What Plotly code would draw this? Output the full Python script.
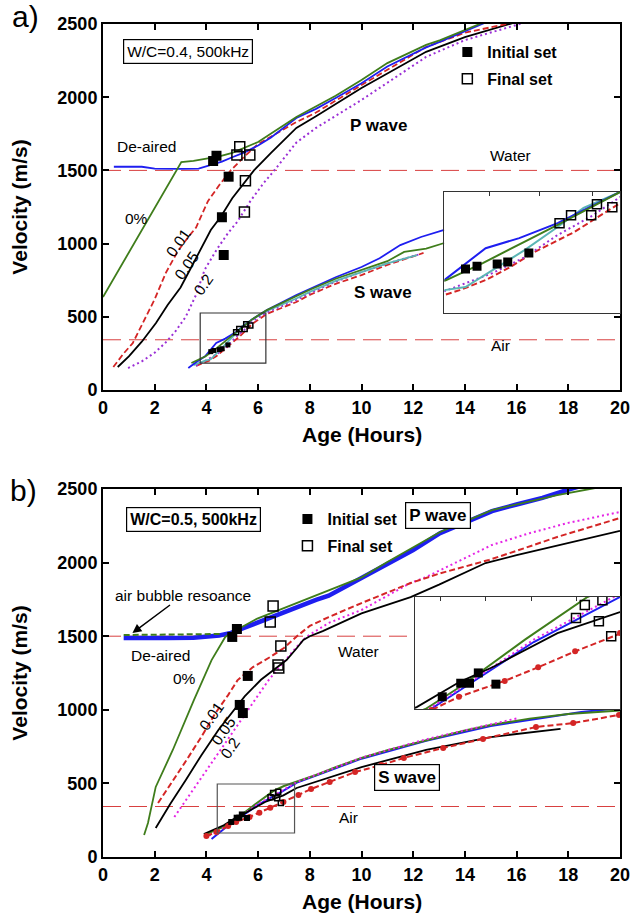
import plotly.graph_objects as go

FONT = "Liberation Sans"

# ---------------- reference velocities ----------------
WATER_V = 1500
AIR_V = 343
AGE_SPAN = [0, 20]

# ================= Panel a) W/C = 0.4 =================
# P wave
A_P_DEAIRED_T = [0.42, 1.5, 2.0, 2.5, 3.0, 3.7, 4.2, 4.6, 5.0, 5.5, 6.0, 6.5, 7.48, 8.24, 9.0, 10.0, 11.0, 12.5, 13.05, 14.6, 15.2]
A_P_DEAIRED_V = [1525, 1525, 1512, 1510, 1510, 1512, 1540, 1560, 1590, 1625, 1670, 1725, 1858, 1920, 1995, 2095, 2210, 2340, 2380, 2500, 2540]
A_P_0_T = [0, 3.03, 3.5, 4.0, 4.5, 5.0, 5.5, 6.0, 7.48, 8.24, 9.0, 10.0, 11.0, 12.5, 13.05, 14.57, 15.2]
A_P_0_V = [635, 1557, 1565, 1578, 1595, 1620, 1655, 1694, 1865, 1935, 2010, 2117, 2233, 2357, 2390, 2500, 2540]
A_P_001_T = [0.4, 0.8, 1.15, 1.67, 2.0, 2.43, 2.9, 3.3, 3.6, 4.06, 4.5, 4.94, 5.5, 6.0, 7.48, 8.24, 10.0, 12.5, 14.0, 15.6, 16.2]
A_P_001_V = [157, 250, 320, 500, 620, 800, 950, 1045, 1110, 1290, 1400, 1500, 1600, 1680, 1830, 1895, 2083, 2343, 2440, 2500, 2530]
A_P_005_T = [0.57, 1.0, 1.5, 2.05, 2.5, 3.0, 3.42, 4.17, 4.55, 5.0, 5.84, 6.5, 7.48, 8.24, 10.0, 12.5, 14.0, 15.8, 16.5]
A_P_005_V = [157, 230, 330, 458, 580, 700, 840, 1093, 1182, 1310, 1500, 1620, 1790, 1870, 2063, 2310, 2410, 2500, 2540]
A_P_02_T = [0.97, 1.5, 2.0, 2.4, 2.8, 3.2, 3.6, 3.93, 4.4, 4.85, 5.2, 5.7, 6.2, 6.65, 7.48, 8.24, 10.0, 12.5, 14.0, 16.2, 16.8]
A_P_02_V = [150, 195, 255, 320, 400, 500, 650, 820, 960, 1075, 1150, 1290, 1410, 1505, 1690, 1790, 1981, 2275, 2390, 2500, 2535]
A_P_INIT_T = [4.26, 4.39, 4.86, 4.6, 4.67]
A_P_INIT_V = [1564, 1600, 1457, 1180, 922]
A_P_FINAL_T = [5.29, 5.18, 5.68, 5.51, 5.47]
A_P_FINAL_V = [1661, 1605, 1605, 1430, 1215]

# S wave
A_S_DEAIRED_T = [3.3, 3.6, 3.95, 4.38, 4.73, 5.13, 5.78, 6.34, 7.48, 8.0, 9.0, 10.0, 10.7, 11.5, 12.3, 13.2]
A_S_DEAIRED_V = [150, 190, 230, 322, 351, 394, 484, 546, 649, 690, 770, 840, 900, 990, 1045, 1093]
A_S_0_T = [3.42, 3.7, 3.97, 4.35, 4.86, 5.13, 5.78, 6.34, 7.48, 8.0, 9.0, 10.0, 11.0, 11.65, 12.5, 13.2]
A_S_0_V = [184, 205, 230, 279, 351, 389, 484, 546, 640, 685, 760, 820, 880, 943, 965, 1004]
A_S_CYAN_T = [3.5, 3.95, 4.17, 4.45, 4.79, 5.13, 5.4, 5.78, 6.34, 7.48, 8.0, 9.0, 10.0, 11.0, 12.15]
A_S_CYAN_V = [170, 201, 210, 259, 317, 383, 438, 484, 540, 625, 670, 745, 805, 865, 922]
A_S_02_T = [3.6, 3.95, 4.45, 4.79, 5.13, 5.47, 5.78, 6.34, 7.48, 8.0, 9.0, 10.0, 11.0, 12.2]
A_S_02_V = [165, 198, 250, 296, 360, 412, 469, 530, 615, 660, 740, 805, 865, 925]
A_S_001_T = [3.6, 3.95, 4.11, 4.38, 4.62, 4.89, 5.3, 5.78, 6.34, 7.48, 8.0, 9.0, 10.0, 11.0, 12.4]
A_S_001_V = [165, 187, 201, 230, 265, 311, 368, 452, 520, 601, 650, 725, 785, 855, 936]
A_S_INIT_T = [4.17, 4.29, 4.5, 4.61, 4.83]
A_S_INIT_V = [262, 270, 276, 282, 308]
A_S_FINAL_T = [5.15, 5.27, 5.48, 5.54, 5.7]
A_S_FINAL_V = [394, 417, 417, 449, 440]

# ================= Panel b) W/C = 0.5 =================
B_P_BUBBLE_T = [0.8, 2.0, 3.0, 4.0, 4.6]
B_P_BUBBLE_V = [1508, 1510, 1510, 1512, 1515]
B_P_DEAIRED_T = [0.8, 1.5, 2.5, 3.5, 4.5, 4.95, 5.5, 6.47, 7.49, 8.24, 8.73, 10.0, 11.0, 12.0, 13.04, 14.0, 15.05, 16.0, 17.0, 18.07, 19.0]
B_P_DEAIRED_V = [1488, 1485, 1487, 1490, 1505, 1522, 1560, 1624, 1700, 1746, 1775, 1895, 1997, 2085, 2200, 2275, 2350, 2395, 2440, 2500, 2545]
B_P_0_T = [1.59, 1.74, 2.04, 2.7, 3.52, 4.2, 4.73, 4.95, 5.97, 7.1, 8.24, 10.0, 11.0, 13.04, 15.05, 17.57, 18.83, 19.5]
B_P_0_V = [150, 231, 476, 727, 1067, 1338, 1495, 1522, 1620, 1700, 1780, 1900, 2004, 2208, 2357, 2459, 2500, 2520]
B_P_001_T = [2.13, 2.6, 3.2, 3.8, 4.34, 4.84, 5.2, 5.8, 6.47, 7.0, 7.5, 8.0, 8.73, 10.0, 11.9, 13.0, 14.93, 16.0, 17.57, 19.0, 20.0]
B_P_001_V = [367, 490, 650, 815, 975, 1100, 1200, 1290, 1359, 1420, 1500, 1570, 1630, 1725, 1861, 1925, 2018, 2080, 2174, 2250, 2303]
B_P_005_T = [2.04, 2.6, 3.21, 3.8, 4.47, 5.0, 5.48, 6.11, 6.6, 7.1, 7.5, 7.75, 8.0, 8.5, 10.0, 11.9, 13.0, 14.8, 16.0, 18.0, 20.0]
B_P_005_V = [197, 360, 525, 690, 865, 985, 1091, 1204, 1270, 1338, 1420, 1474, 1500, 1535, 1655, 1766, 1850, 1997, 2050, 2130, 2215]
B_P_02_T = [2.76, 3.5, 4.2, 4.84, 5.4, 5.88, 6.4, 6.73, 7.1, 7.49, 7.86, 8.5, 8.73, 10.0, 11.0, 11.9, 12.5, 14.0, 15.05, 16.5, 18.0, 20.0]
B_P_02_V = [272, 460, 640, 800, 950, 1067, 1200, 1270, 1350, 1427, 1495, 1565, 1590, 1678, 1775, 1862, 1902, 2030, 2120, 2200, 2270, 2344]
B_P_INIT_T = [5.18, 5.0, 5.6, 5.29, 5.41]
B_P_INIT_V = [1549, 1495, 1230, 1033, 978]
B_P_FINAL_T = [6.58, 6.47, 6.88, 6.77, 6.8]
B_P_FINAL_V = [1705, 1597, 1434, 1304, 1284]

B_S_0_T = [3.95, 4.3, 4.77, 5.16, 5.9, 6.61, 7.0, 7.5, 8.24, 9.0, 10.0, 11.0, 12.5, 14.0, 15.0, 16.5, 18.0, 20.0]
B_S_0_V = [150, 180, 212, 259, 360, 451, 482, 512, 557, 610, 673, 725, 795, 860, 897, 940, 972, 995]
B_S_DEAIRED_T = [4.2, 4.5, 4.83, 5.16, 6.0, 6.97, 7.5, 8.24, 10.0, 12.5, 15.0, 17.0, 18.5, 20.0]
B_S_DEAIRED_V = [122, 165, 212, 252, 355, 450, 505, 553, 668, 790, 890, 945, 985, 1010]
B_S_02_T = [4.1, 4.5, 4.83, 5.16, 6.0, 6.98, 7.5, 8.24, 10.0, 12.5, 14.0, 16.07]
B_S_02_V = [145, 180, 215, 255, 360, 455, 510, 558, 675, 800, 862, 944]
B_S_005_T = [3.9, 4.3, 4.67, 5.16, 5.53, 6.27, 6.98, 7.49, 8.24, 10.0, 12.5, 15.0, 17.7]
B_S_005_V = [156, 188, 216, 270, 301, 374, 419, 469, 510, 611, 727, 815, 870]
B_S_001_T = [4.0, 4.39, 4.84, 5.15, 5.67, 6.05, 6.47, 6.98, 7.56, 8.05, 8.77, 9.75, 10.77, 11.64, 13.16, 14.7, 16.75, 18.19, 19.96]
B_S_001_V = [143, 170, 210, 238, 272, 301, 335, 374, 421, 462, 510, 577, 625, 673, 741, 802, 883, 910, 965]
B_S_INIT_T = [4.96, 5.17, 5.27, 5.37, 5.57]
B_S_INIT_V = [238, 267, 267, 289, 265]
B_S_FINAL_T = [6.48, 6.58, 6.78, 6.74, 6.88]
B_S_FINAL_V = [406, 434, 444, 399, 367]

# ---------------- styles ----------------
GREEN = "#3f7d1b"
BLUE = "#1e1ef0"
RED = "#d42525"
PURPLE = "#9b2fd6"
MAGENTA = "#e524e5"
CYAN = "#5bb5b5"
REFRED = "#d84040"
DASH = "6px,3px"
DOT = "2px,3px"
LONG = "18px,8px"

fig = go.Figure()


def add_line(t, v, color, xa, ya, width=1.8, dash="solid", mode="lines", msize=0):
    fig.add_trace(go.Scatter(
        x=t, y=v, mode=mode, xaxis=xa, yaxis=ya, showlegend=False, hoverinfo="skip",
        line=dict(color=color, width=width, dash=dash),
        marker=dict(size=msize, color=color, symbol="circle")))


def add_marks(t, v, xa, ya, filled, size, legend=None, name=None):
    sym = "square" if filled else "square-open"
    fig.add_trace(go.Scatter(
        x=t, y=v, mode="markers", xaxis=xa, yaxis=ya, hoverinfo="skip",
        showlegend=legend is not None, legend=legend or "legend",
        legendgroup=(name or "") + (legend or ""), name=name,
        marker=dict(symbol=sym, size=size, color="black",
                    line=dict(color="black", width=1.5 if not filled else 0))))


# reference lines
for xa, ya in (("x", "y"), ("x2", "y2")):
    add_line(AGE_SPAN, [WATER_V, WATER_V], REFRED, xa, ya, width=1, dash=LONG)
    add_line(AGE_SPAN, [AIR_V, AIR_V], REFRED, xa, ya, width=1, dash=LONG)

# panel a main
add_line(A_P_02_T, A_P_02_V, PURPLE, "x", "y", dash=DOT, width=2)
add_line(A_P_005_T, A_P_005_V, "black", "x", "y")
add_line(A_P_001_T, A_P_001_V, RED, "x", "y", dash=DASH)
add_line(A_P_DEAIRED_T, A_P_DEAIRED_V, BLUE, "x", "y")
add_line(A_P_0_T, A_P_0_V, GREEN, "x", "y")
for xa, ya, w in (("x", "y", 1.8), ("x3", "y3", 2)):
    add_line(A_S_001_T, A_S_001_V, RED, xa, ya, dash=DASH, width=w)
    add_line(A_S_02_T, A_S_02_V, PURPLE, xa, ya, dash=DOT, width=w)
    add_line(A_S_CYAN_T, A_S_CYAN_V, CYAN, xa, ya, width=w)
    add_line(A_S_DEAIRED_T, A_S_DEAIRED_V, BLUE, xa, ya, width=w)
    add_line(A_S_0_T, A_S_0_V, GREEN, xa, ya, width=w)
add_marks(A_S_INIT_T, A_S_INIT_V, "x", "y", True, 5)
add_marks(A_S_FINAL_T, A_S_FINAL_V, "x", "y", False, 5)
add_marks(A_S_INIT_T, A_S_INIT_V, "x3", "y3", True, 9)
add_marks(A_S_FINAL_T, A_S_FINAL_V, "x3", "y3", False, 9)
add_marks(A_P_INIT_T, A_P_INIT_V, "x", "y", True, 10, legend="legend", name="<b>Initial set</b>")
add_marks(A_P_FINAL_T, A_P_FINAL_V, "x", "y", False, 10, legend="legend", name="<b>Final set</b>")

# panel b main
add_line(B_P_DEAIRED_T, B_P_DEAIRED_V, BLUE, "x2", "y2", width=4.5)
add_line(B_P_BUBBLE_T, B_P_BUBBLE_V, GREEN, "x2", "y2", dash=DASH, width=2)
add_line(B_P_02_T, B_P_02_V, MAGENTA, "x2", "y2", dash=DOT, width=2)
add_line(B_P_005_T, B_P_005_V, "black", "x2", "y2")
add_line(B_P_001_T, B_P_001_V, RED, "x2", "y2", dash=DASH, width=2)
add_line(B_P_0_T, B_P_0_V, GREEN, "x2", "y2")
for xa, ya in (("x2", "y2"), ("x4", "y4")):
    add_line(B_S_DEAIRED_T, B_S_DEAIRED_V, BLUE, xa, ya, width=2)
    add_line(B_S_0_T, B_S_0_V, GREEN, xa, ya, width=2)
    add_line(B_S_02_T, B_S_02_V, MAGENTA, xa, ya, dash=DOT, width=2)
    add_line(B_S_005_T, B_S_005_V, "black", xa, ya, width=1.8)
    add_line(B_S_001_T, B_S_001_V, RED, xa, ya, dash=DASH, width=2, mode="lines+markers", msize=6)
add_marks(B_S_INIT_T, B_S_INIT_V, "x2", "y2", True, 6)
add_marks(B_S_FINAL_T, B_S_FINAL_V, "x2", "y2", False, 5)
add_marks(B_S_INIT_T, B_S_INIT_V, "x4", "y4", True, 9)
add_marks(B_S_FINAL_T, B_S_FINAL_V, "x4", "y4", False, 9)
add_marks(B_P_INIT_T, B_P_INIT_V, "x2", "y2", True, 10, legend="legend2", name="<b>Initial set</b>")
add_marks(B_P_FINAL_T, B_P_FINAL_V, "x2", "y2", False, 10, legend="legend2", name="<b>Final set</b>")

# ---------------- layout ----------------
L, R, T, B = 103, 11, 24, 59
W, H = 641, 916
PW, PH = W - L - R, H - T - B


def pap(xp, yp):
    return (xp - L) / PW, (H - B - yp) / PH


tickfont = dict(family=FONT, size=18, color="black", weight="bold")
main_ax = dict(showline=True, linewidth=2, linecolor="black", mirror="ticks", ticks="inside",
               ticklen=6, tickwidth=1.5, tickcolor="black", showgrid=False, zeroline=False,
               tickfont=tickfont)
inset_ax = dict(showline=True, linewidth=1.2, linecolor="#333", mirror=True, showgrid=False,
                zeroline=False, showticklabels=False)

ya_a = [pap(0, 390)[1], 1.0]
ya_b = [0.0, pap(0, 489)[1]]

fig.update_layout(
    width=W, height=H, margin=dict(l=L, r=R, t=T, b=B),
    paper_bgcolor="white", plot_bgcolor="white",
    xaxis=dict(main_ax, domain=[0, 1], range=AGE_SPAN, dtick=2, anchor="y"),
    yaxis=dict(main_ax, domain=ya_a, range=[0, 2500], dtick=500, anchor="x"),
    xaxis2=dict(main_ax, domain=[0, 1], range=AGE_SPAN, dtick=2, anchor="y2"),
    yaxis2=dict(main_ax, domain=ya_b, range=[0, 2500], dtick=500, anchor="x2"),
    xaxis3=dict(inset_ax, domain=[pap(451, 0)[0], 1], range=[3.95, 5.78], anchor="y3", side="top",
                ticks="inside", ticklen=4, tickwidth=1, tickcolor="#333", tickvals=[4.42, 4.94, 5.49]),
    yaxis3=dict(inset_ax, domain=[pap(0, 313)[1], pap(0, 192)[1]], range=[135, 484], anchor="x3", ticks=""),
    xaxis4=dict(inset_ax, domain=[pap(421, 0)[0], 1], range=[4.65, 6.98], anchor="y4", side="top",
                ticks="inside", ticklen=4, tickwidth=1, tickcolor="#333", tickvals=[4.94, 5.45, 5.97, 6.49]),
    yaxis4=dict(inset_ax, domain=[pap(0, 709)[1], pap(0, 597)[1]], range=[212, 451], anchor="x4", ticks=""),
    legend=dict(x=pap(454, 0)[0], y=pap(0, 35)[1], xanchor="left", yanchor="top",
                font=dict(family=FONT, size=16, color="black"), bgcolor="rgba(0,0,0,0)",
                traceorder="grouped", tracegroupgap=3),
    legend2=dict(x=pap(291, 0)[0], y=pap(0, 502)[1], xanchor="left", yanchor="top",
                 font=dict(family=FONT, size=16, color="black"), bgcolor="rgba(0,0,0,0)",
                 traceorder="grouped", tracegroupgap=3),
    font=dict(family=FONT, color="black"),
)

# box outlining the zoomed region
fig.add_shape(type="rect", xref="x", yref="y", x0=3.76, x1=6.3, y0=184, y1=526,
              line=dict(color="#333", width=1.2))
fig.add_shape(type="rect", xref="x2", yref="y2", x0=4.42, x1=7.41, y0=163, y1=496,
              line=dict(color="#555", width=1.2))

ann = []


def text(xp, yp, s, size=15.5, angle=0, box=False, **kw):
    x, y = pap(xp, yp)
    d = dict(x=x, y=y, xref="paper", yref="paper", text=s, showarrow=False, textangle=angle,
             font=dict(family=FONT, size=size, color="black"), xanchor="center", yanchor="middle")
    if box:
        d.update(bordercolor="black", borderwidth=1.2, borderpad=3, bgcolor="white")
    d.update(kw)
    ann.append(d)


text(24, 16, "a)", size=30)
text(22, 490, "b)", size=30)
text(17, 207, "<b>Velocity (m/s)</b>", size=21, angle=-90)
text(17, 673, "<b>Velocity (m/s)</b>", size=21, angle=-90)
text(367, 435, "<b>Age (Hours)</b>", size=21)
text(367, 902, "<b>Age (Hours)</b>", size=21)
# panel a
text(190, 52, "W/C=0.4, 500kHz", size=15.5, box=True)
text(384, 125, "<b>P wave</b>", size=17)
text(388, 293, "<b>S wave</b>", size=17)
text(518, 156, "Water")
text(508, 345, "Air")
text(147, 146, "De-aired")
text(137, 218, "0%")
text(179, 243, "0.01", angle=-55)
text(188, 265, "0.05", angle=-55)
text(205, 284, "0.2", angle=-55)
# panel b
text(195, 519, "<b>W/C=0.5, 500kHz</b>", size=16, box=True)
text(444, 515, "<b>P wave</b>", size=17, box=True)
text(413, 777, "<b>S wave</b>", size=17, box=True)
text(363, 651, "Water")
text(353, 817, "Air")
text(162, 655, "De-aired")
text(186, 678, "0%")
text(213, 716, "0.01", angle=-55)
text(225, 731, "0.05", angle=-55)
text(232, 748, "0.2", angle=-55)
tx, ty = pap(133, 633)
ann.append(dict(x=tx, y=ty, xref="paper", yref="paper", text="air bubble resoance",
                showarrow=True, arrowhead=2, arrowsize=1.2, arrowwidth=1.5, arrowcolor="black",
                ax=51, ay=-38, font=dict(family=FONT, size=15.5, color="black")))
fig.update_layout(annotations=ann)

fig.write_html("out.html")
